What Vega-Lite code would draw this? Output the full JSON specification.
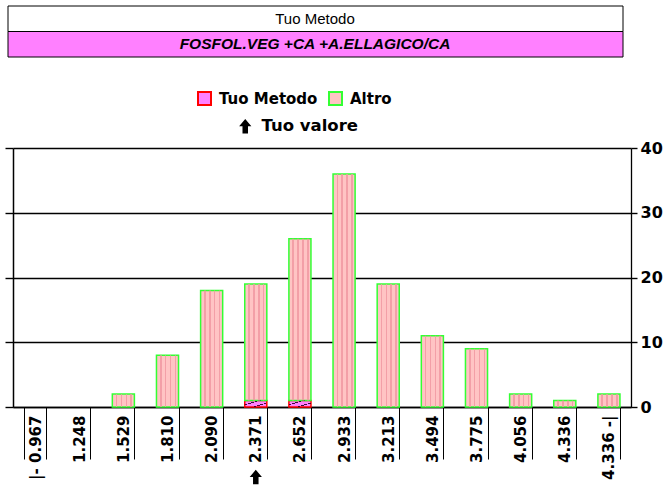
{
  "$schema": "https://vega.github.io/schema/vega-lite/v6.json",
  "padding": {"left": 4, "top": 5, "right": 0, "bottom": 0},
  "autosize": {"type": "pad"},
  "background": "white",
  "bounds": "flush",
  "spacing": 91,
  "config": {"view": {"stroke": null}},
  "datasets": {
    "header": [
      {"riga": "titolo", "testo": "Tuo Metodo"},
      {"riga": "metodo", "testo": "FOSFOL.VEG +CA +A.ELLAGICO/CA"}
    ],
    "bars": [
      {"cat": "1.529", "serie": "Altro", "n": 2, "ord": 2},
      {"cat": "1.810", "serie": "Altro", "n": 8, "ord": 2},
      {"cat": "2.090", "serie": "Altro", "n": 18, "ord": 2},
      {"cat": "2.371", "serie": "Tuo Metodo", "n": 1, "ord": 1},
      {"cat": "2.371", "serie": "Altro", "n": 18, "ord": 2},
      {"cat": "2.652", "serie": "Tuo Metodo", "n": 1, "ord": 1},
      {"cat": "2.652", "serie": "Altro", "n": 25, "ord": 2},
      {"cat": "2.933", "serie": "Altro", "n": 36, "ord": 2},
      {"cat": "3.213", "serie": "Altro", "n": 19, "ord": 2},
      {"cat": "3.494", "serie": "Altro", "n": 11, "ord": 2},
      {"cat": "3.775", "serie": "Altro", "n": 9, "ord": 2},
      {"cat": "4.056", "serie": "Altro", "n": 2, "ord": 2},
      {"cat": "4.336", "serie": "Altro", "n": 1, "ord": 2},
      {"cat": "4.336 -|", "serie": "Altro", "n": 2, "ord": 2}
    ],
    "valore": [{"cat": "2.371", "etichetta": "Tuo valore"}]
  },
  "vconcat": [
    {
      "width": 615,
      "height": 51,
      "data": {"name": "header"},
      "encoding": {
        "y": {"field": "riga", "type": "nominal", "scale": {"domain": ["titolo", "metodo"], "paddingInner": 0, "paddingOuter": 0}, "axis": null}
      },
      "layer": [
        {
          "mark": {"type": "rect", "stroke": "#000000", "strokeWidth": 1, "x": -5, "x2": 610},
          "encoding": {
            "fill": {"field": "riga", "type": "nominal", "scale": {"domain": ["titolo", "metodo"], "range": ["#FFFFFF", "#FF80FF"]}, "legend": null}
          }
        },
        {
          "transform": [{"filter": "datum.riga === 'titolo'"}],
          "mark": {"type": "text", "font": "Liberation Sans", "fontSize": 15, "color": "#000000", "x": 302},
          "encoding": {"text": {"field": "testo"}}
        },
        {
          "transform": [{"filter": "datum.riga === 'metodo'"}],
          "mark": {"type": "text", "font": "Liberation Sans", "fontSize": 15.5, "fontWeight": "bold", "fontStyle": "italic", "color": "#000000", "x": 302},
          "encoding": {"text": {"field": "testo"}}
        }
      ]
    },
    {
      "width": 618,
      "height": 259,
      "resolve": {"axis": {"y": "independent"}, "scale": {"y": "shared"}},
      "layer": [
        {
          "data": {"name": "bars"},
          "mark": {"type": "bar", "strokeWidth": 1.5},
          "encoding": {
            "x": {
              "field": "cat", "type": "nominal", "sort": null,
              "scale": {"domain": ["|- 0.967", "1.248", "1.529", "1.810", "2.090", "2.371", "2.652", "2.933", "3.213", "3.494", "3.775", "4.056", "4.336", "4.336 -|"], "paddingInner": 0.5, "paddingOuter": 0.25},
              "axis": {
                "title": null, "labelAngle": -90, "labelAlign": "right", "labelBaseline": "middle",
                "labelFont": "DejaVu Sans", "labelFontWeight": "bold", "labelFontSize": 15, "labelColor": "#000000",
                "tickBand": "extent", "tickSize": 52, "tickColor": "#000000", "tickWidth": 1,
                "labelPadding": -44, "domainColor": "#000000", "domainWidth": 1.5, "grid": false
              }
            },
            "y": {
              "field": "n", "type": "quantitative", "aggregate": "sum", "stack": "zero",
              "scale": {"domain": [0, 40], "nice": false},
              "axis": {
                "title": null, "orient": "right", "values": [0, 10, 20, 30, 40], "grid": true, "gridColor": "#000000", "gridWidth": 1.4, "gridOpacity": 1,
                "domainColor": "#000000", "domainWidth": 1.3, "tickColor": "#000000", "tickSize": 6, "tickWidth": 1.4,
                "labelFont": "DejaVu Sans", "labelFontWeight": "bold", "labelFontSize": 16, "labelColor": "#000000", "labelPadding": 3
              }
            },
            "color": {
              "field": "serie", "type": "nominal",
              "scale": {"domain": ["Tuo Metodo", "Altro"], "range": ["#FF80FF", "#FFC4C4"]},
              "legend": {
                "title": null, "orient": "none", "legendX": 184, "legendY": 85, "direction": "horizontal",
                "symbolType": "square", "symbolSize": 169, "symbolStrokeWidth": 2, "padding": 0,
                "labelFont": "DejaVu Sans", "labelFontWeight": "bold", "labelFontSize": 15, "labelColor": "#000000",
                "labelOffset": 7, "columnPadding": 7
              }
            },
            "stroke": {
              "field": "serie", "type": "nominal",
              "scale": {"domain": ["Tuo Metodo", "Altro"], "range": ["#FF0000", "#33FF33"]},
              "legend": {
                "title": null, "orient": "none", "legendX": 184, "legendY": 85, "direction": "horizontal",
                "symbolType": "square", "symbolSize": 169, "symbolStrokeWidth": 2, "padding": 0,
                "labelFont": "DejaVu Sans", "labelFontWeight": "bold", "labelFontSize": 15, "labelColor": "#000000",
                "labelOffset": 7, "columnPadding": 7
              }
            },
            "order": {"field": "ord", "type": "quantitative"}
          }
        },
        {
          "data": {"name": "bars"},
          "mark": {"type": "bar", "strokeWidth": 0},
          "encoding": {
            "x": {"field": "cat", "type": "nominal", "sort": null, "title": null},
            "y": {
              "field": "n", "type": "quantitative", "aggregate": "sum", "stack": "zero",
              "scale": {"domain": [0, 40], "nice": false},
              "axis": {
                "title": null, "orient": "left", "values": [0, 10, 20, 30, 40], "grid": false, "labels": false,
                "domainColor": "#000000", "domainWidth": 1.5, "tickColor": "#000000", "tickSize": 8, "tickWidth": 1.4
              }
            },
            "detail": {"field": "serie", "type": "nominal"},
            "order": {"field": "ord", "type": "quantitative"},
            "fill": {
              "condition": {
                "test": "datum.serie === 'Altro'",
                "value": {
                  "gradient": "linear", "x1": 0, "y1": 0, "x2": 1, "y2": 0,
                  "stops": [
                    {"offset": 0, "color": "rgba(240,150,160,0)"},
                    {"offset": 0.16, "color": "rgba(240,150,160,0)"},
                    {"offset": 0.16, "color": "rgba(240,150,160,0.8)"},
                    {"offset": 0.23, "color": "rgba(240,150,160,0.8)"},
                    {"offset": 0.23, "color": "rgba(240,150,160,0)"},
                    {"offset": 0.38, "color": "rgba(240,150,160,0)"},
                    {"offset": 0.38, "color": "rgba(240,150,160,0.8)"},
                    {"offset": 0.45, "color": "rgba(240,150,160,0.8)"},
                    {"offset": 0.45, "color": "rgba(240,150,160,0)"},
                    {"offset": 0.6, "color": "rgba(240,150,160,0)"},
                    {"offset": 0.6, "color": "rgba(240,150,160,0.8)"},
                    {"offset": 0.67, "color": "rgba(240,150,160,0.8)"},
                    {"offset": 0.67, "color": "rgba(240,150,160,0)"},
                    {"offset": 0.82, "color": "rgba(240,150,160,0)"},
                    {"offset": 0.82, "color": "rgba(240,150,160,0.8)"},
                    {"offset": 0.89, "color": "rgba(240,150,160,0.8)"},
                    {"offset": 0.89, "color": "rgba(240,150,160,0)"},
                    {"offset": 1, "color": "rgba(240,150,160,0)"}
                  ]
                }
              },
              "value": {
                "gradient": "linear", "x1": 0, "y1": 0, "x2": 1, "y2": 1,
                "stops": [
                  {"offset": 0, "color": "rgba(0,0,0,0)"},
                  {"offset": 0.3, "color": "rgba(0,0,0,0)"},
                  {"offset": 0.3, "color": "rgba(40,0,40,0.9)"},
                  {"offset": 0.36, "color": "rgba(40,0,40,0.9)"},
                  {"offset": 0.36, "color": "rgba(0,0,0,0)"},
                  {"offset": 0.66, "color": "rgba(0,0,0,0)"},
                  {"offset": 0.66, "color": "rgba(40,0,40,0.9)"},
                  {"offset": 0.72, "color": "rgba(40,0,40,0.9)"},
                  {"offset": 0.72, "color": "rgba(0,0,0,0)"},
                  {"offset": 1, "color": "rgba(0,0,0,0)"}
                ]
              }
            }
          }
        },
        {
          "data": {"name": "valore"},
          "mark": {"type": "point", "filled": true, "color": "#000000", "opacity": 1, "size": 150, "strokeWidth": 0},
          "encoding": {
            "x": {"field": "cat", "type": "nominal", "sort": null, "title": null},
            "y": {"value": "height"},
            "yOffset": {"value": 70},
            "shape": {
              "field": "etichetta", "type": "nominal",
              "scale": {"range": ["M0,-1.2L1,0L0.45,0L0.45,1.2L-0.45,1.2L-0.45,0L-1,0Z"]},
              "legend": {
                "title": null, "orient": "none", "legendX": 224, "legendY": 112, "padding": 0,
                "symbolSize": 150, "symbolFillColor": "#000000", "symbolStrokeWidth": 0, "symbolOpacity": 1,
                "labelFont": "DejaVu Sans", "labelFontWeight": "bold", "labelFontSize": 16.5, "labelColor": "#000000",
                "labelOffset": 8
              }
            }
          }
        }
      ]
    }
  ]
}
